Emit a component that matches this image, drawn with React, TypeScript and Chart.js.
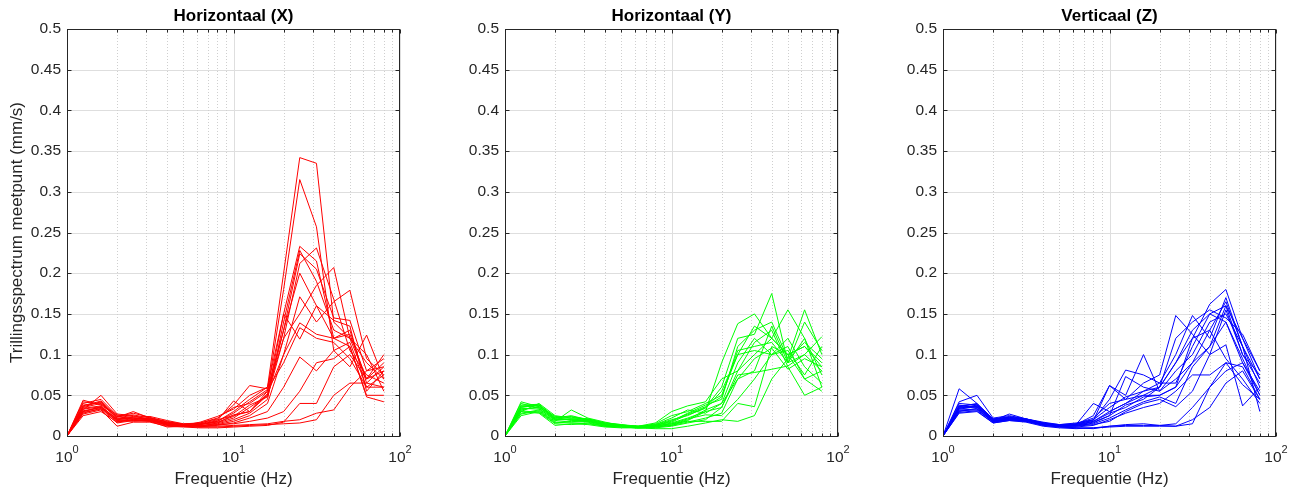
import React, { useEffect, useRef } from 'react';
import { Chart, registerables } from 'chart.js';

Chart.register(...registerables);

// ---------------- data ----------------
const FREQUENCIES = [1, 1.25, 1.6, 2, 2.5, 3.15, 4, 5, 6.3, 8, 10, 12.5, 16, 20, 25, 31.5, 40, 50, 63, 80];

const X_MAJOR_TICKS = [1, 10, 100];
const X_TICK_EXPONENTS = ['0', '1', '2'];
const X_MINOR_TICKS = [2, 3, 4, 5, 6, 7, 8, 9, 20, 30, 40, 50, 60, 70, 80, 90];
const Y_MIN = 0;
const Y_MAX = 0.5;
const Y_STEP = 0.05;

const PANEL_TITLES = ['Horizontaal (X)', 'Horizontaal (Y)', 'Verticaal (Z)'];
const PANEL_COLORS = ['#ff0000', '#00ff00', '#0000ff'];
const Y_AXIS_TITLE = 'Trillingsspectrum meetpunt (mm/s)';
const X_AXIS_TITLE = 'Frequentie (Hz)';

const SERIES_X = [
  [0, .035, .040, .022, .024, .021, .016, .013, .014, .018, .030, .045, .060, .200, .342, .335, .140, .120, .070, .080],
  [0, .030, .036, .020, .022, .020, .015, .012, .015, .020, .025, .030, .055, .180, .315, .257, .105, .115, .060, .075],
  [0, .040, .045, .025, .020, .022, .018, .014, .012, .016, .022, .035, .050, .150, .233, .215, .120, .130, .065, .060],
  [0, .028, .034, .018, .019, .019, .014, .013, .013, .015, .020, .028, .045, .140, .228, .190, .130, .120, .090, .070],
  [0, .044, .038, .024, .028, .023, .017, .014, .016, .022, .035, .040, .055, .120, .212, .231, .168, .105, .075, .065],
  [0, .032, .050, .027, .025, .020, .016, .012, .014, .019, .043, .030, .050, .130, .224, .205, .145, .142, .080, .085],
  [0, .036, .042, .021, .023, .024, .019, .015, .015, .017, .024, .038, .048, .120, .150, .185, .207, .120, .100, .055],
  [0, .025, .030, .017, .020, .018, .013, .012, .011, .014, .018, .025, .040, .100, .171, .140, .165, .179, .095, .075],
  [0, .038, .041, .023, .030, .022, .015, .013, .017, .024, .033, .050, .060, .150, .119, .160, .142, .135, .055, .080],
  [0, .030, .035, .019, .021, .020, .016, .014, .015, .016, .026, .030, .052, .100, .139, .125, .120, .125, .070, .090],
  [0, .034, .037, .020, .018, .019, .014, .013, .012, .013, .016, .022, .030, .060, .097, .080, .105, .085, .124, .070],
  [0, .027, .032, .012, .017, .017, .012, .011, .010, .010, .011, .012, .013, .017, .040, .040, .085, .100, .070, .100],
  [0, .029, .033, .016, .019, .018, .011, .012, .011, .011, .012, .013, .014, .015, .016, .020, .050, .065, .065, .085],
  [0, .042, .039, .026, .022, .021, .013, .013, .012, .012, .013, .014, .015, .018, .020, .028, .032, .060, .080, .095],
  [0, .031, .035, .018, .020, .019, .014, .014, .013, .014, .015, .018, .022, .030, .055, .090, .095, .110, .048, .042],
  [0, .037, .043, .024, .026, .022, .017, .015, .016, .021, .038, .062, .058, .130, .200, .160, .120, .110, .050, .050],
  [0, .033, .036, .021, .022, .020, .015, .013, .014, .018, .028, .042, .057, .090, .133, .120, .115, .095, .060, .060],
];

const SERIES_Y = [
  [0, .035, .038, .022, .024, .020, .015, .012, .011, .012, .016, .022, .030, .090, .138, .150, .120, .100, .110, .090],
  [0, .042, .036, .020, .020, .018, .014, .013, .012, .014, .020, .025, .035, .060, .120, .125, .175, .090, .100, .080],
  [0, .030, .040, .025, .022, .021, .016, .014, .011, .015, .025, .030, .040, .050, .100, .135, .120, .155, .120, .060],
  [0, .028, .032, .018, .032, .022, .017, .013, .012, .013, .018, .028, .038, .045, .110, .130, .140, .095, .155, .100],
  [0, .038, .039, .023, .019, .019, .014, .012, .010, .011, .014, .020, .032, .040, .070, .080, .135, .090, .140, .105],
  [0, .025, .030, .016, .018, .017, .012, .011, .010, .010, .012, .016, .020, .035, .075, .078, .082, .086, .100, .122],
  [0, .033, .035, .021, .021, .020, .015, .013, .011, .012, .015, .018, .018, .018, .040, .036, .110, .100, .070, .080],
  [0, .030, .028, .013, .015, .014, .011, .010, .010, .009, .009, .012, .016, .020, .018, .025, .070, .095, .115, .095],
  [0, .036, .037, .024, .023, .021, .016, .014, .012, .016, .030, .037, .042, .070, .080, .115, .130, .085, .050, .060],
  [0, .040, .034, .019, .017, .018, .013, .012, .011, .013, .017, .026, .034, .055, .100, .105, .100, .110, .070, .055],
  [0, .032, .036, .022, .025, .020, .015, .012, .011, .014, .022, .032, .028, .040, .090, .120, .100, .120, .085, .065],
  [0, .027, .031, .017, .016, .015, .012, .011, .010, .011, .013, .019, .030, .035, .080, .100, .120, .100, .110, .085],
  [0, .034, .033, .020, .021, .019, .014, .012, .011, .012, .015, .021, .026, .025, .045, .070, .100, .105, .075, .110],
  [0, .037, .038, .021, .020, .018, .013, .013, .012, .013, .019, .027, .036, .048, .105, .110, .115, .090, .120, .075],
  [0, .031, .029, .015, .014, .016, .012, .011, .010, .011, .013, .017, .022, .028, .070, .095, .108, .082, .095, .085],
];

const SERIES_Z = [
  [0, .034, .036, .018, .022, .020, .015, .012, .013, .018, .030, .040, .050, .060, .090, .120, .162, .180, .120, .070],
  [0, .040, .038, .020, .024, .021, .016, .013, .014, .020, .035, .048, .055, .065, .100, .148, .120, .170, .110, .060],
  [0, .030, .034, .017, .020, .019, .014, .012, .012, .016, .025, .038, .045, .060, .120, .140, .155, .145, .125, .080],
  [0, .036, .040, .021, .023, .020, .016, .013, .015, .022, .040, .045, .065, .075, .148, .125, .100, .155, .100, .075],
  [0, .058, .040, .019, .021, .020, .015, .012, .014, .025, .062, .050, .100, .055, .070, .090, .110, .140, .090, .050],
  [0, .042, .050, .022, .025, .021, .017, .014, .016, .020, .045, .081, .075, .065, .065, .110, .150, .160, .100, .065],
  [0, .028, .030, .016, .019, .018, .013, .011, .010, .009, .012, .013, .013, .013, .015, .035, .060, .080, .090, .055],
  [0, .032, .033, .017, .020, .018, .013, .011, .010, .010, .011, .012, .012, .012, .012, .020, .035, .065, .080, .045],
  [0, .035, .037, .019, .027, .021, .015, .013, .012, .014, .018, .030, .040, .045, .036, .055, .100, .112, .037, .060],
  [0, .038, .035, .018, .021, .019, .014, .012, .014, .018, .028, .035, .048, .050, .060, .120, .130, .095, .070, .040],
  [0, .033, .036, .020, .022, .020, .016, .013, .013, .017, .025, .073, .060, .055, .080, .100, .140, .150, .110, .030],
  [0, .031, .032, .018, .020, .018, .014, .012, .011, .013, .020, .028, .035, .040, .055, .075, .075, .090, .063, .045],
  [0, .037, .039, .021, .023, .021, .016, .014, .015, .019, .062, .045, .050, .050, .060, .090, .130, .165, .110, .070],
  [0, .036, .036, .019, .021, .019, .015, .012, .013, .015, .022, .032, .042, .048, .040, .085, .110, .160, .120, .080],
  [0, .034, .038, .020, .022, .020, .015, .013, .014, .040, .030, .040, .055, .060, .090, .130, .150, .140, .095, .050],
  [0, .029, .031, .016, .019, .017, .012, .010, .009, .010, .012, .014, .015, .013, .012, .015, .060, .090, .085, .045],
];

const PANEL_SERIES = [SERIES_X, SERIES_Y, SERIES_Z];

// ---------------- layout / style ----------------
const FONT = '"Liberation Sans", Arial, Helvetica, sans-serif';
const AXIS_COLOR = '#262626';
const PANEL_LEFTS = [0, 438, 876];
const CANVAS_W = 428;
const CANVAS_H = 495;

Chart.defaults.font.family = FONT;

const framePlugin = {
  id: 'matlabFrame',
  beforeDatasetsDraw(chart: any) {
    const { ctx, chartArea: a, scales } = chart;
    const x = scales.x;
    const y = scales.y;
    ctx.save();
    ctx.lineWidth = 1;
    // major y grid
    ctx.strokeStyle = '#dedede';
    ctx.setLineDash([]);
    y.ticks.forEach((t: any) => {
      const py = Math.round(y.getPixelForValue(t.value)) + 0.5;
      ctx.beginPath();
      ctx.moveTo(a.left, py);
      ctx.lineTo(a.right, py);
      ctx.stroke();
    });
    // major x grid
    X_MAJOR_TICKS.forEach((v) => {
      const px = Math.round(x.getPixelForValue(v)) + 0.5;
      ctx.beginPath();
      ctx.moveTo(px, a.top);
      ctx.lineTo(px, a.bottom);
      ctx.stroke();
    });
    // minor x grid dotted
    ctx.strokeStyle = '#cfcfcf';
    ctx.setLineDash([1, 2]);
    X_MINOR_TICKS.forEach((v) => {
      const px = Math.round(x.getPixelForValue(v)) + 0.5;
      ctx.beginPath();
      ctx.moveTo(px, a.top);
      ctx.lineTo(px, a.bottom);
      ctx.stroke();
    });
    ctx.restore();
  },
  afterDraw(chart: any) {
    const { ctx, chartArea: a, scales } = chart;
    const x = scales.x;
    const y = scales.y;
    const L = Math.round(a.left) + 0.5;
    const R = Math.round(a.right) - 0.5;
    const T = Math.round(a.top) + 0.5;
    const B = Math.round(a.bottom) + 0.5;
    ctx.save();
    ctx.setLineDash([]);
    ctx.lineWidth = 1;
    ctx.strokeStyle = AXIS_COLOR;
    ctx.strokeRect(L, T, R - L, B - T);
    ctx.beginPath();
    y.ticks.forEach((t: any) => {
      const py = Math.round(y.getPixelForValue(t.value)) + 0.5;
      ctx.moveTo(L, py);
      ctx.lineTo(L + 4, py);
      ctx.moveTo(R, py);
      ctx.lineTo(R - 4, py);
    });
    X_MAJOR_TICKS.forEach((v) => {
      const px = Math.round(x.getPixelForValue(v)) + 0.5;
      ctx.moveTo(px, B);
      ctx.lineTo(px, B - 4);
      ctx.moveTo(px, T);
      ctx.lineTo(px, T + 4);
    });
    X_MINOR_TICKS.forEach((v) => {
      const px = Math.round(x.getPixelForValue(v)) + 0.5;
      ctx.moveTo(px, B);
      ctx.lineTo(px, B - 3);
      ctx.moveTo(px, T);
      ctx.lineTo(px, T + 3);
    });
    ctx.stroke();

    // x tick labels 10^n
    ctx.fillStyle = AXIS_COLOR;
    ctx.textBaseline = 'alphabetic';
    ctx.textAlign = 'left';
    X_MAJOR_TICKS.forEach((v, i) => {
      const px = x.getPixelForValue(v);
      ctx.font = `15.5px ${FONT}`;
      const w1 = ctx.measureText('10').width;
      ctx.font = `11px ${FONT}`;
      const w2 = ctx.measureText(X_TICK_EXPONENTS[i]).width;
      const start = px - (w1 + w2) / 2;
      ctx.font = `15.5px ${FONT}`;
      ctx.fillText('10', start, 462);
      ctx.font = `11px ${FONT}`;
      ctx.fillText(X_TICK_EXPONENTS[i], start + w1, 453);
    });
    ctx.restore();
  },
};

function makeConfig(index: number): any {
  const color = PANEL_COLORS[index];
  const datasets = PANEL_SERIES[index].map((vals) => ({
    data: FREQUENCIES.map((f, i) => ({ x: f, y: vals[i] })),
    borderColor: color,
    backgroundColor: color,
    borderWidth: 1,
    pointRadius: 0,
    pointHoverRadius: 0,
    fill: false,
    tension: 0,
  }));
  return {
    type: 'line',
    data: { datasets },
    plugins: [framePlugin],
    options: {
      responsive: false,
      animation: false,
      events: [],
      layout: { padding: { left: 0, top: 0, right: CANVAS_W - 400, bottom: 0 } },
      plugins: {
        legend: { display: false },
        tooltip: { enabled: false },
        title: {
          display: true,
          text: PANEL_TITLES[index],
          fullSize: false,
          color: '#000000',
          font: { family: FONT, size: 17, weight: 'bold', lineHeight: 1.2 },
          padding: { top: 6.3, bottom: 2.3 },
        },
      },
      scales: {
        x: {
          type: 'logarithmic',
          min: 1,
          max: 100,
          grid: { display: false, drawTicks: false },
          border: { display: false },
          ticks: { display: false },
          title: {
            display: true,
            text: X_AXIS_TITLE,
            color: AXIS_COLOR,
            font: { family: FONT, size: 17, lineHeight: 1.2 },
            padding: { top: 0, bottom: 5.3 },
          },
          afterFit: (s: any) => {
            s.height = 59;
          },
        },
        y: {
          type: 'linear',
          min: Y_MIN,
          max: Y_MAX,
          grid: { display: false, drawTicks: false },
          border: { display: false },
          ticks: {
            stepSize: Y_STEP,
            padding: 6,
            color: AXIS_COLOR,
            font: { family: FONT, size: 15.5 },
            callback: (v: any) => String(+Number(v).toFixed(2)),
          },
          title: {
            display: index === 0,
            text: Y_AXIS_TITLE,
            color: AXIS_COLOR,
            font: { family: FONT, size: 17, lineHeight: 1.2 },
            padding: { top: 7.3, bottom: 0 },
          },
          afterFit: (s: any) => {
            s.width = 67;
          },
        },
      },
    },
  };
}

function Panel({ index }: { index: number }) {
  const ref = useRef<HTMLCanvasElement | null>(null);
  useEffect(() => {
    if (!ref.current) return;
    const chart = new Chart(ref.current, makeConfig(index));
    return () => chart.destroy();
  }, [index]);
  return (
    <canvas
      ref={ref}
      width={CANVAS_W}
      height={CANVAS_H}
      style={{ position: 'absolute', left: PANEL_LEFTS[index], top: 0, width: CANVAS_W, height: CANVAS_H }}
    />
  );
}

export default function App() {
  return (
    <div
      style={{
        position: 'absolute',
        left: 0,
        top: 0,
        width: 1304,
        height: 495,
        background: '#ffffff',
        overflow: 'hidden',
      }}
    >
      {PANEL_TITLES.map((_, i) => (
        <Panel key={i} index={i} />
      ))}
    </div>
  );
}
